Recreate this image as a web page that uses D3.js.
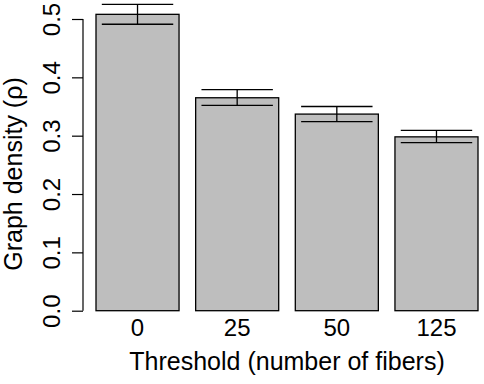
<!DOCTYPE html>
<html>
<head>
<meta charset="utf-8">
<script src="https://cdn.jsdelivr.net/npm/d3@7"></script>
<style>
  html, body { margin: 0; padding: 0; background: #fff; }
  svg { display: block; }
</style>
</head>
<body>
<svg id="chart" width="484" height="384"></svg>
<script>
const categories = ["0", "25", "50", "125"];
const means = [0.508, 0.365, 0.337, 0.298];
const upper = [0.525, 0.379, 0.350, 0.309];
const lower = [0.491, 0.352, 0.324, 0.288];
const yTicks = [0.0, 0.1, 0.2, 0.3, 0.4, 0.5];

const svg = d3.select("#chart");
const font = "'Liberation Sans', Arial, Helvetica, sans-serif";

// R barplot-style positions: width 1, space 0.2
const x = d3.scaleLinear().domain([0.2, 4.8]).range([96, 478]);
const y = d3.scaleLinear().domain([0, 0.5]).range([310.7, 19]);

const barLeft = i => 0.2 + i * 1.2;
const barCenter = i => barLeft(i) + 0.5;

// bars
svg.append("g").selectAll("rect")
  .data(means)
  .join("rect")
  .attr("x", (d, i) => x(barLeft(i)))
  .attr("width", (d, i) => x(barLeft(i) + 1) - x(barLeft(i)))
  .attr("y", d => y(d))
  .attr("height", d => y(0) - y(d))
  .attr("fill", "#bebebe")
  .attr("stroke", "#000")
  .attr("stroke-width", 1.3);

// error bars
const capHalf = 0.43;
const eb = svg.append("g").attr("stroke", "#000").attr("stroke-width", 1.3);
means.forEach((m, i) => {
  const cx = x(barCenter(i));
  eb.append("line").attr("x1", cx).attr("x2", cx)
    .attr("y1", y(lower[i])).attr("y2", y(upper[i]));
  [lower[i], upper[i]].forEach(v => {
    eb.append("line")
      .attr("x1", x(barCenter(i) - capHalf)).attr("x2", x(barCenter(i) + capHalf))
      .attr("y1", y(v)).attr("y2", y(v));
  });
});

// y axis
const yAxis = d3.axisLeft(y).tickValues(yTicks).tickFormat(d3.format(".1f"))
  .tickSize(11).tickPadding(0);
const gy = svg.append("g").attr("transform", "translate(83,0)").call(yAxis);
gy.select(".domain").attr("d", `M0,${y(0)}V${y(0.5)}`).attr("stroke-width", 1.2);
gy.selectAll(".tick line").attr("stroke-width", 1.2);
gy.selectAll(".tick text")
  .attr("font-family", font).attr("font-size", 24).attr("fill", "#000")
  .attr("x", null).attr("dy", null)
  .attr("text-anchor", "middle")
  .attr("transform", "translate(-23,0) rotate(-90)");

// x labels
svg.append("g").selectAll("text")
  .data(categories)
  .join("text")
  .attr("x", (d, i) => x(barCenter(i)))
  .attr("y", 336)
  .attr("text-anchor", "middle")
  .attr("font-family", font).attr("font-size", 24)
  .text(d => d);

// axis titles
svg.append("text")
  .attr("x", x(2.5)).attr("y", 370)
  .attr("text-anchor", "middle")
  .attr("font-family", font).attr("font-size", 25)
  .text("Threshold (number of fibers)");

svg.append("text")
  .attr("transform", "translate(22,174) rotate(-90)")
  .attr("text-anchor", "middle")
  .attr("font-family", font).attr("font-size", 25)
  .text("Graph density (ρ)");
</script>
</body>
</html>
